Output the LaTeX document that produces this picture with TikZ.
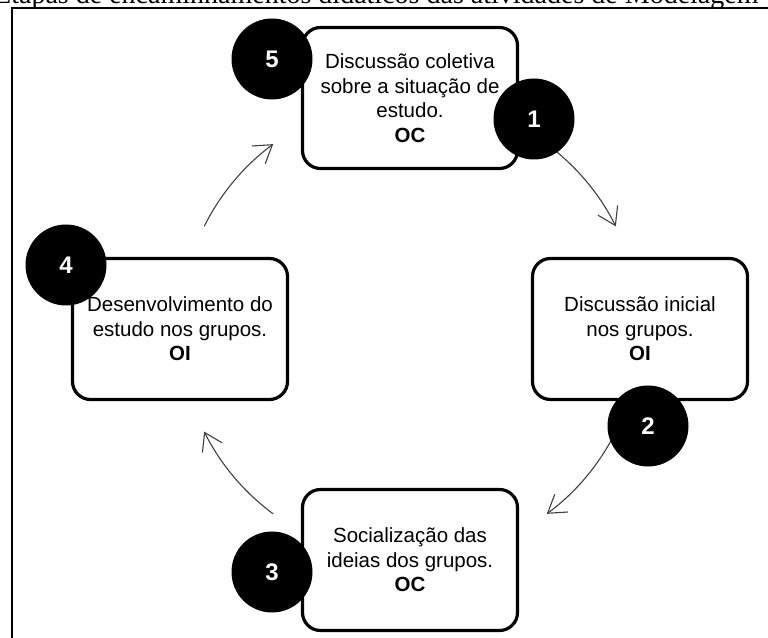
\documentclass[tikz,border=0pt]{standalone}
\usepackage{fontspec}
\setmainfont{Liberation Serif}
\setsansfont{Liberation Sans}
\usetikzlibrary{arrows.meta}

\begin{document}
\begin{tikzpicture}[x=1pt,y=1pt,
    etapa/.style={draw=black, line width=3.2pt, rounded corners=18pt, minimum width=215pt, minimum height=141pt, align=center, inner sep=2pt, font=\sffamily\fontsize{20.5}{24.5}\selectfont},
    numero/.style={circle, fill=black, minimum size=81pt, inner sep=0pt, text=white, font=\sffamily\bfseries\fontsize{24}{24}\selectfont},
    seta/.style={draw=black!75, line width=1.1pt, -{Straight Barb[length=17pt,width=22pt]}}]
    \useasboundingbox (0,0) rectangle (768,637);
    % titulo cortado e moldura
    \node[anchor=base west, inner sep=0pt, font=\fontsize{28}{28}\selectfont] (titulo) at (-6,633) {Etapas de encaminhamentos did\'aticos das atividades de Modelagem};
    \draw[line width=2.5pt] (12,-2)--(12,629)--(772,629);
    % setas do ciclo
    \coordinate (c) at (410,308);
    \draw[seta] (c) ++(153.5:230pt) arc[start angle=153.5, end angle=126.5, radius=230pt];
    \draw[seta] (c) ++(53.5:230pt) arc[start angle=53.5, end angle=26.5, radius=230pt];
    \draw[seta] (c) ++(-26.5:230pt) arc[start angle=-26.5, end angle=-53.5, radius=230pt];
    \draw[seta] (c) ++(-126.5:230pt) arc[start angle=-126.5, end angle=-153.5, radius=230pt];
    % etapas
    \node[etapa] (coletiva) at (410,539) {Discuss\~ao coletiva\\sobre a situa\c{c}\~ao de\\estudo.\\\textbf{OC}};
    \node[etapa] (inicial) at (640,308) {Discuss\~ao inicial\\nos grupos.\\\textbf{OI}};
    \node[etapa] (socializ) at (410,77) {Socializa\c{c}\~ao das\\ideias dos grupos.\\\textbf{OC}};
    \node[etapa] (desenv) at (180,308) {Desenvolvimento do\\estudo nos grupos.\\\textbf{OI}};
    % numeros
    \node[numero] (n5) at (272,578) {5};
    \node[numero] (n1) at (534,518) {1};
    \node[numero] (n2) at (648,211) {2};
    \node[numero] (n3) at (272,65) {3};
    \node[numero] (n4) at (66,372) {4};
\end{tikzpicture}
\end{document}
